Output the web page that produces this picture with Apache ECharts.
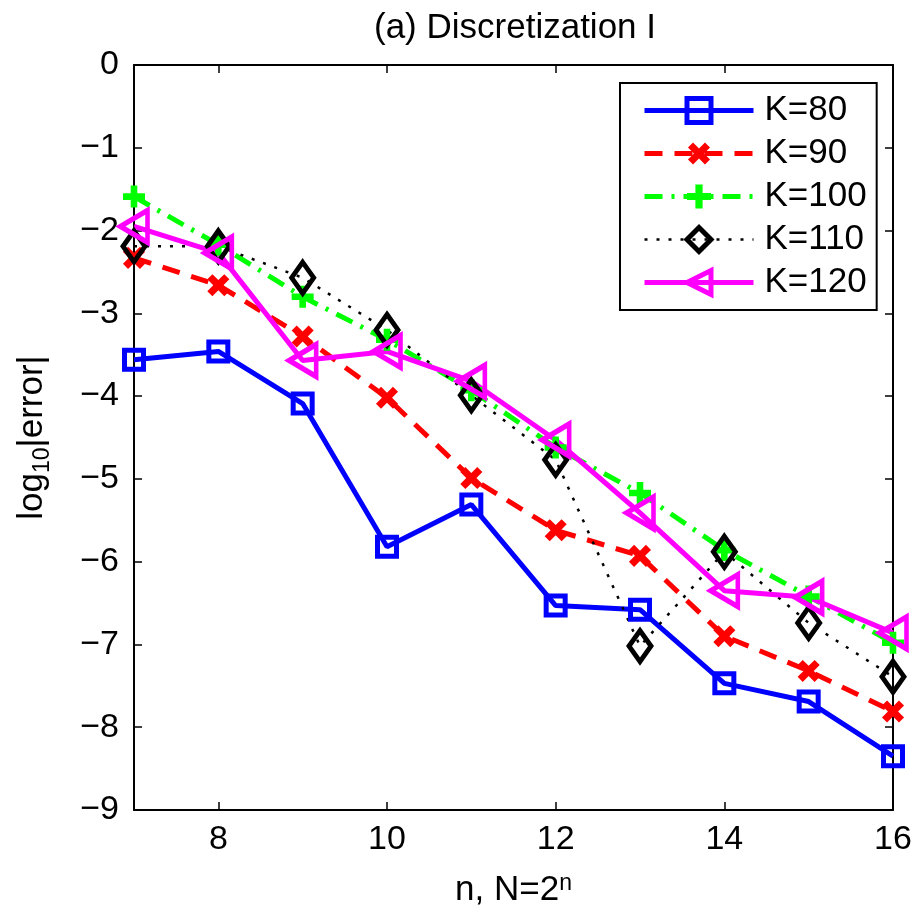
<!DOCTYPE html>
<html>
<head>
<meta charset="utf-8">
<script src="https://cdn.jsdelivr.net/npm/echarts@6/dist/echarts.min.js"></script>
<style>
  html, body { margin: 0; padding: 0; background: #fff; }
  #main { width: 915px; height: 912px; }
</style>
</head>
<body>
<div id="main"></div>
<script>
var nValues = [7, 8, 9, 10, 11, 12, 13, 14, 15, 16];
var k80  = [-3.56, -3.46, -4.09, -5.82, -5.31, -6.53, -6.58, -7.47, -7.69, -8.35];
var k90  = [-2.33, -2.66, -3.28, -4.02, -4.99, -5.62, -5.93, -6.90, -7.32, -7.81];
var k100 = [-1.59, -2.17, -2.80, -3.32, -3.93, -4.62, -5.17, -5.86, -6.42, -6.98];
var k110 = [-2.19, -2.19, -2.57, -3.20, -3.99, -4.77, -7.02, -5.88, -6.74, -7.39];
var k120 = [-1.95, -2.27, -3.57, -3.46, -3.82, -4.53, -5.41, -6.35, -6.43, -6.86];
var xTicks = [8, 10, 12, 14, 16];
var seriesNames = ['K=80', 'K=90', 'K=100', 'K=110', 'K=120'];

var FONT = 'Liberation Sans, Arial, sans-serif';
var plusPath = 'path://M3.5,0H6.5V3.5H10V6.5H6.5V10H3.5V6.5H0V3.5H3.5Z';

function pairs(ys) {
    return nValues.map(function (n, i) { return [n, ys[i]]; });
}

// one style per curve, shared by the series and its legend entry
var styles = [
    { line: { color: '#0000ff', width: 5, type: 'solid' },
      item: { color: 'rgba(0,0,0,0)', borderColor: '#0000ff', borderWidth: 5 } },
    { line: { color: '#ff0000', width: 5, type: [18, 12] },
      item: { color: '#ff0000', borderWidth: 0 } },
    { line: { color: '#00ff00', width: 5, type: [18, 9, 3, 9] },
      item: { color: '#00ff00', borderWidth: 0 } },
    { line: { color: '#000000', width: 2.5, type: [3, 9] },
      item: { color: 'rgba(0,0,0,0)', borderColor: '#000000', borderWidth: 5 } },
    { line: { color: '#ff00ff', width: 5, type: 'solid' },
      item: { color: 'rgba(0,0,0,0)', borderColor: '#ff00ff', borderWidth: 5 } }
];

var chart = echarts.init(document.getElementById('main'));

var option = {
    animation: false,
    backgroundColor: '#fff',
    title: {
        text: '(a) Discretization I',
        left: 369,
        top: 6,
        textStyle: { fontFamily: FONT, fontSize: 35, fontWeight: 'normal', color: '#000' }
    },
    grid: {
        left: 134, right: 22, top: 65, bottom: 102,
        containLabel: false,
        outerBoundsMode: 'none'
    },
    legend: {
        left: 620,
        top: 83,
        orient: 'vertical',
        data: seriesNames.map(function (name, i) {
            return { name: name, lineStyle: styles[i].line, itemStyle: styles[i].item };
        }),
        backgroundColor: '#fff',
        borderColor: '#000',
        borderWidth: 2,
        borderRadius: 0,
        padding: [10, 10, 10, 22],
        itemWidth: 109,
        itemHeight: 30,
        itemGap: 8,
        selectedMode: false,
        textStyle: { fontFamily: FONT, fontSize: 35, color: '#000', padding: [0, 0, 0, 6] }
    },
    xAxis: [{
        type: 'value',
        min: 7, max: 16,
        name: 'n, N=2{sup|n}',
        nameLocation: 'middle',
        nameGap: 62,
        nameTextStyle: {
            fontFamily: FONT, fontSize: 35, color: '#000',
            rich: { sup: { fontFamily: FONT, fontSize: 23, color: '#000', verticalAlign: 'top', padding: [0, 0, 14, 0] } }
        },
        axisLine: { show: true, onZero: false, lineStyle: { color: '#000', width: 2 } },
        axisTick: { show: true, inside: true, length: 8, customValues: xTicks, lineStyle: { color: '#000', width: 1.5 } },
        axisLabel: { customValues: xTicks, fontFamily: FONT, fontSize: 34, color: '#000', margin: 13 },
        splitLine: { show: false }
    }, {
        type: 'value',
        position: 'top',
        min: 7, max: 16,
        axisLine: { show: true, onZero: false, lineStyle: { color: '#000', width: 2 } },
        axisTick: { show: true, inside: true, length: 8, customValues: xTicks, lineStyle: { color: '#000', width: 1.5 } },
        axisLabel: { show: false },
        splitLine: { show: false }
    }],
    yAxis: [{
        type: 'value',
        min: -9, max: 0, interval: 1,
        name: '{a|log}{sub|10}{a||error|}',
        nameLocation: 'middle',
        nameGap: 80,
        nameRotate: 90,
        nameTextStyle: {
            rich: {
                a: { fontFamily: FONT, fontSize: 35, color: '#000' },
                sub: { fontFamily: FONT, fontSize: 23, color: '#000', verticalAlign: 'bottom', padding: [20, 0, 0, 0] }
            }
        },
        axisLine: { show: true, onZero: false, lineStyle: { color: '#000', width: 2 } },
        axisTick: { show: true, inside: true, length: 8, lineStyle: { color: '#000', width: 1.5 } },
        axisLabel: {
            fontFamily: FONT, fontSize: 34, color: '#000', margin: 15,
            formatter: function (v) { return String(v).replace('-', '\u2212'); }
        },
        splitLine: { show: false }
    }, {
        type: 'value',
        position: 'right',
        min: -9, max: 0, interval: 1,
        axisLine: { show: true, onZero: false, lineStyle: { color: '#000', width: 2 } },
        axisTick: { show: true, inside: true, length: 8, lineStyle: { color: '#000', width: 1.5 } },
        axisLabel: { show: false },
        splitLine: { show: false }
    }],
    series: [{
        name: 'K=80',
        type: 'line',
        data: pairs(k80),
        symbol: 'rect',
        symbolSize: 19,
        itemStyle: styles[0].item,
        lineStyle: styles[0].line
    }, {
        name: 'K=90',
        type: 'line',
        data: pairs(k90),
        symbol: plusPath,
        symbolSize: 24,
        symbolRotate: 45,
        itemStyle: styles[1].item,
        lineStyle: styles[1].line
    }, {
        name: 'K=100',
        type: 'line',
        data: pairs(k100),
        symbol: plusPath,
        symbolSize: 22,
        itemStyle: styles[2].item,
        lineStyle: styles[2].line
    }, {
        name: 'K=110',
        type: 'line',
        data: pairs(k110),
        symbol: 'diamond',
        symbolSize: [22, 31],
        itemStyle: styles[3].item,
        lineStyle: styles[3].line
    }, {
        name: 'K=120',
        type: 'line',
        data: pairs(k120),
        symbol: 'triangle',
        symbolSize: [32, 27],
        symbolRotate: 90,
        itemStyle: styles[4].item,
        lineStyle: styles[4].line
    }]
};

chart.setOption(option);
window.addEventListener('resize', function () { chart.resize(); });
</script>
</body>
</html>
